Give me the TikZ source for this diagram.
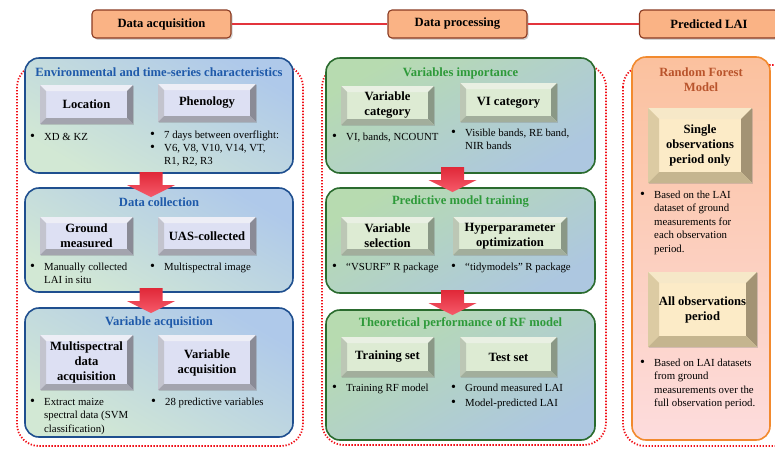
\documentclass[tikz,border=0pt]{standalone}
\usepackage{fontspec}
\setmainfont{Liberation Serif}
\usetikzlibrary{calc,shadows}
\definecolor{hdrfill}{HTML}{FAB385}
\definecolor{hdrdraw}{HTML}{8A3B22}
\definecolor{linkred}{HTML}{E3343C}
\definecolor{dotred}{HTML}{F01018}
\definecolor{bluedraw}{HTML}{1F4F8F}
\definecolor{bluetop}{HTML}{AFC9EA}
\definecolor{bluebot}{HTML}{D2E8D4}
\definecolor{bluetitle}{HTML}{1F5AAA}
\definecolor{greendraw}{HTML}{2A6B2E}
\definecolor{greentop}{HTML}{B7DBB0}
\definecolor{greenbot}{HTML}{ADC7E0}
\definecolor{greentitle}{HTML}{2E9A3A}
\definecolor{orangedraw}{HTML}{F28A2E}
\definecolor{orangetop}{HTML}{FBC19E}
\definecolor{orangebot}{HTML}{FDDCDD}
\definecolor{rftitle}{HTML}{B9542C}
\definecolor{arrowtop}{HTML}{E02838}
\definecolor{arrowbot}{HTML}{F65A6A}
% bevel colours: face, top, left, right, bottom
\definecolor{bvface}{HTML}{DDE0F3}
\definecolor{bvtop}{HTML}{EDEEF6}
\definecolor{bvleft}{HTML}{C3C4CE}
\definecolor{bvright}{HTML}{8A8B96}
\definecolor{bvbottom}{HTML}{A3A4AE}
\definecolor{gvface}{HTML}{DDEBD3}
\definecolor{gvtop}{HTML}{E9F0E3}
\definecolor{gvleft}{HTML}{BCC7B5}
\definecolor{gvright}{HTML}{8A9886}
\definecolor{gvbottom}{HTML}{A2AE9C}
\definecolor{cvface}{HTML}{FCEBC7}
\definecolor{cvtop}{HTML}{F6E8C8}
\definecolor{cvleft}{HTML}{DCCBA3}
\definecolor{cvright}{HTML}{A39374}
\definecolor{cvbottom}{HTML}{C5B58F}
\newcommand{\bulletdot}{{\fontsize{14}{14}\selectfont\textbullet}}
\newcommand{\bitem}[1]{\makebox[14pt][l]{\bulletdot}\begin{tabular}[t]{@{}l@{}}#1\end{tabular}}
\tikzset{
  hdr/.style={
    draw=hdrdraw,
    fill=hdrfill,
    line width=1.1pt,
    rounded corners=4pt,
    minimum width=139pt,
    minimum height=28pt,
    font=\fontsize{12.6}{15}\selectfont\bfseries,
    drop shadow={shadow xshift=1.5pt, shadow yshift=-1.8pt, opacity=.35}
  },
  link/.style={draw=linkred, line width=1.5pt},
  container/.style={draw=dotred, line width=1.8pt, dash pattern=on 1.3pt off 1.7pt, rounded corners=22pt},
  panel/.style={rounded corners=14pt, line width=1.6pt, inner sep=0pt},
  bluepanel/.style={panel, draw=bluedraw, top color=bluetop, bottom color=bluebot, shading angle=-30},
  greenpanel/.style={panel, draw=greendraw, top color=greentop, bottom color=greenbot, shading angle=30},
  orangepanel/.style={panel, draw=orangedraw, top color=orangetop, bottom color=orangebot},
  title/.style={font=\fontsize{12.6}{15}\selectfont\bfseries, inner sep=0pt, align=center},
  bul/.style={anchor=base west, inner sep=0pt, font=\fontsize{10.8}{13.4}\selectfont},
  bevel size/.store in=\bevsize, bevel size=6pt,
  bevelbox/.style n args={5}{
    fill=#1,
    inner sep=2pt,
    align=center,
    font=\fontsize{12.6}{15}\selectfont\bfseries,
    drop shadow={shadow xshift=1.2pt, shadow yshift=-1.2pt, opacity=.3},
    path picture={
      \fill[#2] (path picture bounding box.north west) -- (path picture bounding box.north east)
        -- ($(path picture bounding box.north east)+(-\bevsize,-\bevsize)$)
        -- ($(path picture bounding box.north west)+(\bevsize,-\bevsize)$) -- cycle;
      \fill[#3] (path picture bounding box.north west) -- (path picture bounding box.south west)
        -- ($(path picture bounding box.south west)+(\bevsize,\bevsize)$)
        -- ($(path picture bounding box.north west)+(\bevsize,-\bevsize)$) -- cycle;
      \fill[#4] (path picture bounding box.north east) -- (path picture bounding box.south east)
        -- ($(path picture bounding box.south east)+(-\bevsize,\bevsize)$)
        -- ($(path picture bounding box.north east)+(-\bevsize,-\bevsize)$) -- cycle;
      \fill[#5] (path picture bounding box.south west) -- (path picture bounding box.south east)
        -- ($(path picture bounding box.south east)+(-\bevsize,\bevsize)$)
        -- ($(path picture bounding box.south west)+(\bevsize,\bevsize)$) -- cycle;
    }
  },
  bluebox/.style={bevelbox={bvface}{bvtop}{bvleft}{bvright}{bvbottom}},
  greenbox/.style={bevelbox={gvface}{gvtop}{gvleft}{gvright}{gvbottom}},
  creambox/.style={bevelbox={cvface}{cvtop}{cvleft}{cvright}{cvbottom}, bevel size=11pt},
  blockdown/.pic={
    \shade[top color=arrowtop, bottom color=arrowbot]
      (-11.5,0) -- (11.5,0) -- (11.5,13) -- (24,13) -- (0,25) -- (-24,13) -- (-11.5,13) -- cycle;
  }
}
\begin{document}
\begin{tikzpicture}[x=1pt,y=-1pt]
\useasboundingbox (0,0) rectangle (775,448);
\clip (0,0) rectangle (775,448);

% stage headers
\node[hdr] (hacq) at (161.5,24) {Data acquisition};
\node[hdr] (hproc) at (457.5,24) {Data processing};
\node[hdr] (hpred) at (709,24) {Predicted LAI};
\draw[link] (hacq) -- (hproc);
\draw[link] (hproc) -- (hpred);

% dotted groups
\draw[container] (17,65) rectangle (303,446);
\draw[container] (322,65) rectangle (606,445);
\draw[container] (623,65) rectangle (800,446);

% Data acquisition column
\node[bluepanel, minimum width=268pt, minimum height=115pt] (env) at (159,115.5) {};
\node[bluepanel, minimum width=268pt, minimum height=104pt] (coll) at (159,240) {};
\node[bluepanel, minimum width=268pt, minimum height=129pt] (vacq) at (159,372.5) {};
\node[title, text=bluetitle] (tenv) at (159,72) {Environmental and time-series characteristics};
\node[title, text=bluetitle] (tcoll) at (159,202) {Data collection};
\node[title, text=bluetitle] (tvacq) at (159,322) {Variable acquisition};

\node[bluebox, minimum width=93pt, minimum height=39pt] (loc) at (86.5,104.5) {Location};
\node[bluebox, minimum width=98pt, minimum height=38pt] (phen) at (207,103) {Phenology};
\node[bluebox, minimum width=93pt, minimum height=38pt] (gm) at (86.5,236) {Ground\\measured};
\node[bluebox, minimum width=98pt, minimum height=38pt] (uas) at (207,236) {UAS-collected};
\node[bluebox, minimum width=93pt, minimum height=55pt] (msd) at (86.5,362.5) {Multispectral\\data\\acquisition};
\node[bluebox, minimum width=98pt, minimum height=55pt] (vac) at (207,362.5) {Variable\\acquisition};

\node[bul] (bloc) at (30,140.5) {\bitem{XD \& KZ}};
\node[bul] (bphena) at (150,138.5) {\bitem{7 days between overflight:}};
\node[bul] (bphenb) at (150,151.5) {\bitem{V6, V8, V10, V14, VT,\\R1, R2, R3}};
\node[bul] (bgm) at (30,270.5) {\bitem{Manually collected\\LAI in situ}};
\node[bul] (buas) at (150,270.5) {\bitem{Multispectral image}};
\node[bul] (bmsd) at (30,405.5) {\bitem{Extract maize\\spectral data (SVM\\classification)}};
\node[bul] (bvac) at (151,405.5) {\bitem{28 predictive variables}};

% Data processing column
\node[greenpanel, minimum width=269pt, minimum height=115pt] (vimp) at (460.5,115.5) {};
\node[greenpanel, minimum width=269pt, minimum height=105pt] (train) at (460.5,240.5) {};
\node[greenpanel, minimum width=269pt, minimum height=130pt] (perf) at (460.5,375) {};
\node[title, text=greentitle] (tvimp) at (460.5,73) {Variables importance};
\node[title, text=greentitle] (ttrain) at (460.5,202) {Predictive model training};
\node[title, text=greentitle] (tperf) at (460.5,323) {Theoretical performance of RF model};

\node[greenbox, minimum width=93pt, minimum height=39pt] (vcat) at (387.5,105.5) {Variable\\category};
\node[greenbox, minimum width=97pt, minimum height=39pt] (vicat) at (508.5,102.5) {VI category};
\node[greenbox, minimum width=93pt, minimum height=38pt] (vsel) at (387.5,236) {Variable\\selection};
\node[greenbox, minimum width=114pt, minimum height=38pt] (hyp) at (510,236) {Hyperparameter\\optimization};
\node[greenbox, minimum width=93pt, minimum height=40pt] (tset) at (387.5,357) {Training set};
\node[greenbox, minimum width=97pt, minimum height=40pt] (test) at (508.5,357) {Test set};

\node[bul] (bvcat) at (332,140.5) {\bitem{VI, bands, NCOUNT}};
\node[bul] (bvicat) at (451,136.5) {\bitem{Visible bands, RE band,\\NIR bands}};
\node[bul] (bvsel) at (332,270.5) {\bitem{“VSURF” R package}};
\node[bul] (bhyp) at (451,270.5) {\bitem{“tidymodels” R package}};
\node[bul] (btset) at (332,391.5) {\bitem{Training RF model}};
\node[bul] (btesta) at (451,391.5) {\bitem{Ground measured LAI}};
\node[bul] (btestb) at (451,406.5) {\bitem{Model-predicted LAI}};

% Predicted LAI column
\node[orangepanel, minimum width=138pt, minimum height=383pt] (rf) at (701,248.5) {};
\node[title, text=rftitle] (trf) at (701,79.5) {Random Forest\\Model};
\node[creambox, minimum width=104pt, minimum height=75pt] (single) at (700,145.5) {Single\\observations\\period only};
\node[creambox, minimum width=109pt, minimum height=75pt] (allobs) at (702.5,309.5) {All observations\\period};
\node[bul] (bsingle) at (640,198.5) {\bitem{Based on the LAI\\dataset of ground\\measurements for\\each observation\\period.}};
\node[bul] (ballobs) at (640,366.5) {\bitem{Based on LAI datasets\\from ground\\measurements over the\\full observation period.}};

% block arrows between stages
\pic (arrenv) at (151,172) {blockdown};
\pic (arrcoll) at (151,288) {blockdown};
\pic (arrvimp) at (452.5,167) {blockdown};
\pic (arrtrain) at (452.5,290) {blockdown};

\end{tikzpicture}
\end{document}
